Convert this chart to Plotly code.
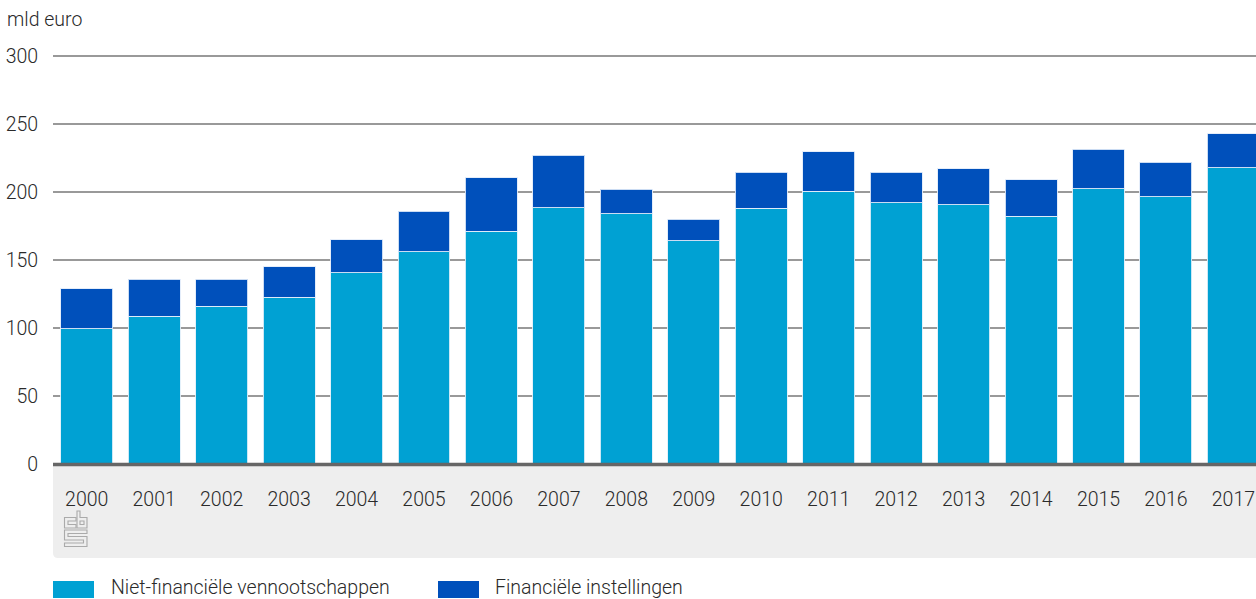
import plotly.graph_objects as go

years = [str(y) for y in range(2000, 2018)]
niet_financieel = [99.5, 108.5, 116, 122.5, 140.5, 156, 171, 188.5, 184, 164, 188, 200.5, 192, 190.5, 182, 202.5, 196.5, 218]
financieel = [29.5, 27.5, 20, 22.5, 24.5, 30, 39.5, 38.5, 18, 16, 26.5, 29, 22.5, 26.5, 27, 29, 25.5, 25]
y_ticks = [0, 50, 100, 150, 200, 250, 300]

FONT = "Roboto"
TEXT = "#2a2a2a"
W, H = 1256, 599
L, T, B = 53, 53, 135
PW, PH = W - L, H - T - B
Y_TOP = 300 + 3 / 1.36           # 3 px headroom so the 300 gridline is drawn


def px(x):
    return (x - L) / PW


def py(y):
    return (H - B - y) / PH


def path(points):
    return "M" + " L".join(f"{px(x):.5f},{py(y):.5f}" for x, y in points) + " Z"


fig = go.Figure()
fig.add_bar(x=years, y=niet_financieel, name="Niet-financiële vennootschappen",
            marker=dict(color="#00a1d3", line=dict(color="rgba(225,240,250,0.9)", width=1)))
fig.add_bar(x=years, y=financieel, name="Financiële instellingen",
            marker=dict(color="#0050bb", line=dict(color="rgba(225,235,250,0.9)", width=1)))

shapes = [
    dict(type="path", xref="paper", yref="paper", layer="below", fillcolor="#eeeeee", line_width=0,
         path=f"M{px(53)},{py(464)} L{px(1256)},{py(464)} L{px(1256)},{py(558)} L{px(58)},{py(558)} "
              f"Q{px(53)},{py(558)} {px(53)},{py(553)} Z"),
    dict(type="line", xref="paper", yref="paper", layer="above", x0=px(53), x1=px(1256), y0=py(464.5), y1=py(464.5),
         line=dict(color="#666666", width=3.5)),
    dict(type="rect", xref="paper", yref="paper", x0=px(53), x1=px(94), y0=py(581), y1=py(598),
         fillcolor="#00a1d3", line_width=0),
    dict(type="rect", xref="paper", yref="paper", x0=px(438), x1=px(479), y0=py(581), y1=py(598),
         fillcolor="#0050bb", line_width=0),
]

# CBS logo (decorative outline)
logo_lines = [
    [(64.5, 517.5), (76, 517.5), (76, 521), (68, 521), (68, 524.5), (76, 524.5), (76, 528), (64.5, 528)],
    [(77, 511), (80, 511), (80, 517.5), (87, 517.5), (87, 528), (77, 528)],
    [(80, 521), (84, 521), (84, 524.5), (80, 524.5)],
    [(64.5, 530), (87, 530), (87, 533.5), (68, 533.5), (68, 536.5), (87, 536.5), (87, 546.5), (64.5, 546.5),
     (64.5, 543), (83.5, 543), (83.5, 540), (64.5, 540)],
]
for pts in logo_lines:
    shapes.append(dict(type="path", xref="paper", yref="paper", path=path(pts),
                       line=dict(color="#aaaaaa", width=1.1), fillcolor="rgba(0,0,0,0)"))

text_font = dict(family=FONT, size=19.5, color=TEXT, weight=300)
annotations = [
    dict(text="mld euro", x=px(5), y=py(20), xref="paper", yref="paper", xanchor="left", yanchor="middle",
         showarrow=False, font=text_font),
    dict(text="Niet-financiële vennootschappen", x=px(109), y=py(587.5), xref="paper", yref="paper",
         xanchor="left", yanchor="middle", showarrow=False, font=text_font),
    dict(text="Financiële instellingen", x=px(493), y=py(587.5), xref="paper", yref="paper",
         xanchor="left", yanchor="middle", showarrow=False, font=text_font),
]

fig.update_layout(
    width=W, height=H, autosize=False, barmode="stack", bargap=0.23, showlegend=False,
    margin=dict(l=L, r=0, t=T, b=B, pad=0),
    paper_bgcolor="white", plot_bgcolor="rgba(0,0,0,0)",
    font=text_font,
    shapes=shapes, annotations=annotations,
    xaxis=dict(type="category", range=[-0.5, 17.335], showgrid=False, showline=False, zeroline=False,
               ticks="outside", ticklen=18, tickcolor="rgba(0,0,0,0)", tickfont=text_font),
    yaxis=dict(range=[0, Y_TOP], tickvals=y_ticks, gridcolor="#999999", gridwidth=1.5, zeroline=False,
               showline=False, ticks="outside", ticklen=10, tickcolor="rgba(0,0,0,0)",
               tickfont=text_font),
)
fig.write_html("out.html", config=dict(displayModeBar=False),
               post_script="document.body.style.margin='0';document.body.style.overflow='hidden';")
